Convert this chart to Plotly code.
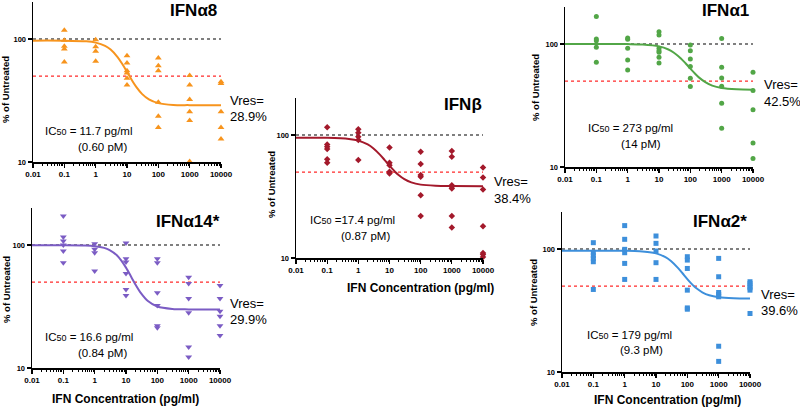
import plotly.graph_objects as go

# ---------------- data ----------------
DOSES = [0.1, 1, 10, 100, 1000, 10000]
X_TICKS = [0.01, 0.1, 1, 10, 100, 1000, 10000]
X_TICK_LABELS = ["0.01", "0.1", "1", "10", "100", "1000", "10000"]
Y_TICKS = [10, 100]
Y_TICK_LABELS = ["10", "100"]

# replicate values (% of untreated) per dose
ifna8_vals = [[117.6, 97.5, 87.2, 82.9, 65.0],
              [98.8, 86.6, 79.4, 65.8],
              [73.2, 63.8, 55.3, 53.0, 47.9, 42.3],
              [70.1, 60.7, 55.3, 30.6, 23.5, 19.1],
              [50.4, 42.3, 32.2, 25.6, 21.8, 10.1],
              [45.0, 43.4, 25.6, 19.1, 15.4]]
ifna14_vals = [[172, 116, 107.8, 100, 89.3, 71.8],
               [102.5, 92.2, 86.6, 61.4],
               [103.8, 77.4, 72.7, 58.7, 43.5, 38.9],
               [77.4, 71.8, 40.9, 32.2, 22.1, 21.2],
               [54.8, 48.7, 36.7, 28.1, 14.8, 12.3],
               [46.9, 36.7, 29.0, 26.4, 22.1, 18.4]]
ifnb_vals = [[115.5, 83.9, 80.3, 76.9, 63.4, 59.5],
             [111.2, 104.5, 96.9, 91.0, 62.5],
             [79.3, 59.5, 56.9, 50.2, 48.7],
             [73.1, 58.0, 47.2, 45.7, 32.4, 22.0],
             [74.1, 66.6, 39.1, 37.9, 36.7, 22.0, 17.7],
             [54.5, 45.2, 36.1, 18.1, 11.0, 10.7, 10.2]]
ifna1_vals = [[167.5, 109.8, 106.4, 94.0, 71.0],
              [111.8, 109.1, 92.2, 74.2, 61.5],
              [125.9, 118.3, 92.2, 88.3, 85.6, 78.0, 70.1],
              [98.1, 88.3, 75.6, 65.5, 52.7, 45.1],
              [111.1, 64.7, 53.0, 45.4, 33.0, 20.7],
              [58.9, 41.9, 29.2, 15.7, 11.7]]
ifna2_vals = [[112.6, 93.9, 88.2, 83.9, 78.8, 46.9],
              [155, 119.9, 99.4, 93.3, 76.4, 56.6],
              [127.6, 111.2, 96.3, 77.4, 56.6],
              [86.6, 81.3, 69.5, 46.3, 33.2, 32.4],
              [83.9, 59.5, 44.3, 42.7, 40.9, 16.2, 12.2],
              [54.2, 52.5, 49.9, 48.4, 46.3, 29.9]]

# fitted curves
ifna8_fit_x = [0.01, 0.1, 0.5, 1, 2, 3, 5, 7, 10, 15, 20, 30, 50, 100, 300, 1000, 10000]
ifna8_fit_y = [97.0, 96.9, 95.7, 93.5, 88.0, 82.1, 71.4, 63.0, 54.1, 45.4, 40.6, 35.8, 32.3, 30.1, 29.1, 29.0, 28.9]
ifna14_fit_x = [0.01, 0.1, 0.5, 1, 2, 3, 5, 7, 10, 15, 20, 30, 50, 100, 300, 1000, 10000]
ifna14_fit_y = [99.5, 99.5, 99.0, 97.9, 94.8, 91.0, 82.9, 75.1, 65.5, 54.5, 47.8, 40.6, 35.0, 31.6, 30.2, 29.95, 29.9]
ifnb_fit_x = [0.01, 0.1, 0.5, 1, 2, 3, 5, 7, 10, 15, 20, 30, 50, 100, 300, 1000, 10000]
ifnb_fit_y = [95.0, 94.8, 92.9, 90.0, 83.8, 78.1, 69.0, 62.6, 56.3, 50.3, 47.1, 43.8, 41.2, 39.5, 38.7, 38.5, 38.4]
ifna1_fit_x = [0.01, 0.1, 1, 3, 10, 20, 30, 50, 70, 100, 150, 200, 300, 500, 1000, 3000, 10000]
ifna1_fit_y = [100, 100, 99.8, 99.1, 95.7, 90.3, 85.0, 76.3, 69.8, 63.1, 56.6, 52.8, 49.0, 45.9, 43.9, 42.8, 42.5]
ifna2_fit_x = [0.01, 0.1, 1, 3, 10, 20, 30, 50, 70, 100, 150, 200, 300, 500, 1000, 3000, 10000]
ifna2_fit_y = [97.0, 97.0, 96.8, 96.0, 92.2, 85.8, 79.8, 70.2, 63.5, 57.0, 50.9, 47.7, 44.5, 42.1, 40.6, 39.8, 39.6]

titles = ["IFNα8", "IFNα14*", "IFNβ", "IFNα1", "IFNα2*"]
vres = ["28.9%", "29.9%", "38.4%", "42.5%", "39.6%"]
ic50 = ["11.7 pg/ml", "16.6 pg/ml", "17.4 pg/ml", "273 pg/ml", "179 pg/ml"]
ic50_pm = ["(0.60 pM)", "(0.84 pM)", "(0.87 pM)", "(14 pM)", "(9.3 pM)"]

# ---------------- layout / style ----------------
W, H = 800, 410
FONT = "Liberation Sans, Arial, Helvetica, sans-serif"

panels = [
    dict(vals=ifna8_vals, fx=ifna8_fit_x, fy=ifna8_fit_y, color="#F7941D", sym="triangle-up", msize=6,
         box=(33, 221, 2, 162), title_xy=(219, 10), vres_xy=(228, 100), ic_xy=(43, 131), pm_xy=(102, 147),
         ytitle_xy=(6, 90), xtitle_xy=None, ic_sep="= "),
    dict(vals=ifna14_vals, fx=ifna14_fit_x, fy=ifna14_fit_y, color="#7B5CC4", sym="triangle-down", msize=6,
         box=(32, 220, 208, 368), title_xy=(222, 221), vres_xy=(228, 303), ic_xy=(43, 337), pm_xy=(102, 353),
         ytitle_xy=(6, 290), xtitle_xy=(125, 399), ic_sep="= "),
    dict(vals=ifnb_vals, fx=ifnb_fit_x, fy=ifnb_fit_y, color="#A3192B", sym="diamond", msize=5,
         box=(296, 483, 98, 258), title_xy=(484, 104), vres_xy=(492, 182), ic_xy=(308, 220), pm_xy=(365, 236),
         ytitle_xy=(272, 185), xtitle_xy=(420, 288), ic_sep="="),
    dict(vals=ifna1_vals, fx=ifna1_fit_x, fy=ifna1_fit_y, color="#52A647", sym="circle", msize=5,
         box=(565, 753, 7, 167), title_xy=(751, 10), vres_xy=(762, 85), ic_xy=(586, 128), pm_xy=(641, 144),
         ytitle_xy=(536, 88), xtitle_xy=None, ic_sep="= "),
    dict(vals=ifna2_vals, fx=ifna2_fit_x, fy=ifna2_fit_y, color="#3D8FDB", sym="square", msize=5,
         box=(562, 750, 212, 372), title_xy=(749, 221), vres_xy=(759, 294), ic_xy=(585, 335), pm_xy=(641, 350),
         ytitle_xy=(533, 293), xtitle_xy=(667, 400), ic_sep="= "),
]

minor_x = [m * 10 ** k for k in range(-2, 4) for m in range(2, 10)]

fig = go.Figure()
annotations = []
layout_axes = {}

for i, p in enumerate(panels, start=1):
    xs = "x" if i == 1 else f"x{i}"
    ys = "y" if i == 1 else f"y{i}"
    xname = "xaxis" if i == 1 else f"xaxis{i}"
    yname = "yaxis" if i == 1 else f"yaxis{i}"
    x0, x1, ytop, ybot = p["box"]

    # reference lines
    fig.add_trace(go.Scatter(x=[X_TICKS[0], X_TICKS[-1]], y=[100, 100], mode="lines",
                             line=dict(color="black", width=1.2, dash="dot"), xaxis=xs, yaxis=ys,
                             showlegend=False, hoverinfo="skip"))
    fig.add_trace(go.Scatter(x=[X_TICKS[0], X_TICKS[-1]], y=[50, 50], mode="lines",
                             line=dict(color="#FF2A2A", width=1.2, dash="dot"), xaxis=xs, yaxis=ys,
                             showlegend=False, hoverinfo="skip"))
    # replicate points
    px_, py_ = [], []
    for d, vals in zip(DOSES, p["vals"]):
        for v in vals:
            px_.append(d)
            py_.append(v)
    fig.add_trace(go.Scatter(x=px_, y=py_, mode="markers",
                             marker=dict(symbol=p["sym"], size=p["msize"], color=p["color"], line=dict(width=0)),
                             xaxis=xs, yaxis=ys, showlegend=False, cliponaxis=False))
    # fit curve
    fig.add_trace(go.Scatter(x=p["fx"], y=p["fy"], mode="lines",
                             line=dict(color=p["color"], width=2, shape="spline", smoothing=0.8),
                             xaxis=xs, yaxis=ys, showlegend=False, cliponaxis=False))

    layout_axes[xname] = dict(
        type="log", range=[-2, 4], domain=[x0 / W, x1 / W], anchor=ys, automargin=False,
        tickmode="array", tickvals=X_TICKS, ticktext=X_TICK_LABELS,
        ticks="outside", ticklen=4, tickwidth=1.2, tickcolor="black",
        minor=dict(tickmode="array", tickvals=minor_x, ticks="outside", ticklen=2, tickwidth=1,
                   tickcolor="black", showgrid=False),
        showline=True, linecolor="black", linewidth=1.5, showgrid=False, zeroline=False,
        tickfont=dict(family=FONT, size=8, color="black", weight="bold"),
    )
    layout_axes[yname] = dict(
        type="log", range=[1, 2.301], domain=[1 - ybot / H, 1 - ytop / H], anchor=xs, automargin=False,
        tickmode="array", tickvals=Y_TICKS, ticktext=Y_TICK_LABELS,
        ticks="outside", ticklen=4, tickwidth=1.2, tickcolor="black",
        showline=True, linecolor="black", linewidth=1.5, showgrid=False, zeroline=False,
        tickfont=dict(family=FONT, size=7.5, color="black", weight="bold"),
    )

    tx, ty = p["title_xy"]
    annotations.append(dict(x=tx / W, y=1 - ty / H, xref="paper", yref="paper", xanchor="right", yanchor="middle",
                            text=f"<b>{titles[i-1]}</b>", showarrow=False,
                            font=dict(family=FONT, size=17, color="black")))
    vx, vy = p["vres_xy"]
    annotations.append(dict(x=vx / W, y=1 - vy / H, xref="paper", yref="paper", xanchor="left", yanchor="middle",
                            text="Vres=", showarrow=False, font=dict(family=FONT, size=13, color="black")))
    annotations.append(dict(x=vx / W, y=1 - (vy + 16) / H, xref="paper", yref="paper", xanchor="left", yanchor="middle",
                            text=vres[i-1], showarrow=False, font=dict(family=FONT, size=13, color="black")))
    ix, iy = p["ic_xy"]
    annotations.append(dict(x=ix / W, y=1 - iy / H, xref="paper", yref="paper", xanchor="left", yanchor="middle",
                            text="IC<span style='font-size:9px'>50</span> " + p["ic_sep"] + ic50[i-1], showarrow=False,
                            font=dict(family=FONT, size=11.5, color="black")))
    mx, my = p["pm_xy"]
    annotations.append(dict(x=mx / W, y=1 - my / H, xref="paper", yref="paper", xanchor="center", yanchor="middle",
                            text=ic50_pm[i-1], showarrow=False, font=dict(family=FONT, size=11.5, color="black")))
    yx, yy = p["ytitle_xy"]
    annotations.append(dict(x=yx / W, y=1 - yy / H, xref="paper", yref="paper", xanchor="center", yanchor="middle",
                            text="<b>% of Untreated</b>", textangle=-90, showarrow=False,
                            font=dict(family=FONT, size=9.5, color="black")))
    if p["xtitle_xy"]:
        qx, qy = p["xtitle_xy"]
        annotations.append(dict(x=qx / W, y=1 - qy / H, xref="paper", yref="paper", xanchor="center", yanchor="middle",
                                text="<b>IFN Concentration (pg/ml)</b>", showarrow=False,
                                font=dict(family=FONT, size=12, color="black")))

fig.update_layout(
    width=W, height=H, margin=dict(l=0, r=0, t=0, b=0, autoexpand=False),
    paper_bgcolor="white", plot_bgcolor="white",
    showlegend=False, annotations=annotations,
    font=dict(family=FONT, color="black"),
    hovermode=False,
    **layout_axes,
)

fig.write_html("out.html", config={"displayModeBar": False, "staticPlot": True},
               post_script="document.body.style.margin='0';document.body.style.overflow='hidden';")
